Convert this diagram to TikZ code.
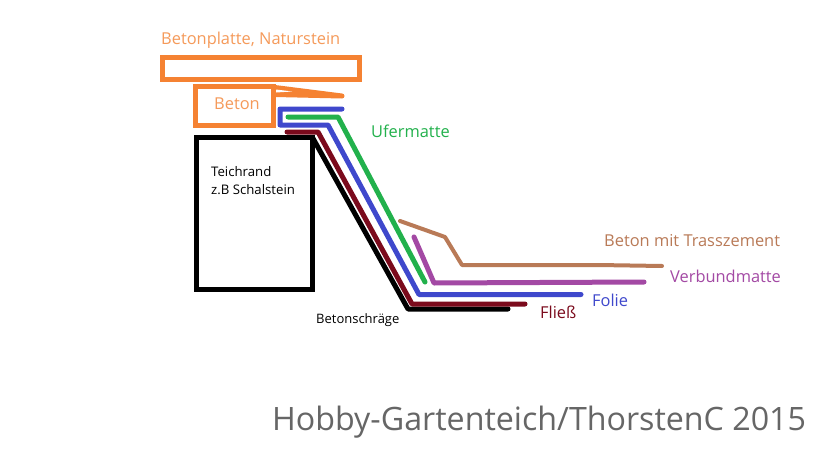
\documentclass[tikz,border=0pt]{standalone}
\usepackage{fontspec}
\setmainfont{Open Sans}
\definecolor{pOrange}{HTML}{F58232}
\definecolor{tOrange}{HTML}{F59A5A}
\definecolor{pGreen}{HTML}{22B14C}
\definecolor{pBlue}{HTML}{3F48CC}
\definecolor{pMaroon}{HTML}{7B0A1C}
\definecolor{pPurple}{HTML}{A349A4}
\definecolor{pBrown}{HTML}{B97A57}
\definecolor{pGrey}{HTML}{666666}
\tikzset{
  layer/.style={line width=5pt,line cap=round,line join=round},
  boxline/.style={line width=5pt,line join=miter},
  lab/.style={anchor=base west,inner sep=0pt,font=\fontsize{#1}{#1}\selectfont},
}
\begin{document}
\begin{tikzpicture}[x=1pt,y=-1pt]
\useasboundingbox (0,0) rectangle (819,460);
\fill[white] (0,0) rectangle (819,460);
% plate and concrete
\draw[boxline,pOrange] (162.5,57.5) rectangle (359.5,79.5);
\fill[pOrange] (275,85) -- (342,93.5) arc[start angle=-90,end angle=90,radius=2.5] -- (275,97) -- cycle;
\fill[white] (276,89.5) -- (292,91.5) -- (276,92.5) -- cycle;
\draw[boxline,pOrange] (195.5,86.5) rectangle (273.5,125.5);
% black
\draw[boxline,black] (196.5,137.5) rectangle (312.5,289);
\draw[layer,black] (312.5,137.5) -- (408,309) -- (508,309);
% layers
\draw[layer,pMaroon] (287,132) -- (318,132) -- (412,304) -- (525,304);
\draw[layer,pBlue] (342,109) -- (280,109) -- (280,125) -- (328,125) -- (419,294.5) -- (581,294.5);
\draw[layer,pGreen] (288,117) -- (338,117) -- (425,282);
\draw[layer,pPurple] (414,237) -- (434,283) -- (644,282);
\draw[layer,pBrown,line width=4pt] (400,221) -- (445,237) -- (462,265) -- (598,265) -- (662,266);
% labels
\node[lab=16.4,text=tOrange] (plate) at (161,45) {Betonplatte, Naturstein};
\node[lab=16.4,text=tOrange] (beton) at (214,109) {Beton};
\node[lab=16.4,text=pGreen] (ufer) at (371,137) {Ufermatte};
\node[lab=13.2,text=black] (rand) at (211,176) {Teichrand};
\node[lab=13.2,text=black] (rand2) at (211,194) {z.B Schalstein};
\node[lab=16.4,text=pBrown] (trass) at (604,246) {Beton mit Trasszement};
\node[lab=16.4,text=pPurple] (verbund) at (670,282) {Verbundmatte};
\node[lab=16.4,text=pBlue] (folie) at (592,306) {Folie};
\node[lab=16.4,text=pMaroon] (fliess) at (540,318) {Fließ};
\node[lab=13,text=black] (schraege) at (316,323) {Betonschräge};
\node[lab=32.2,text=pGrey] (credit) at (272,430) {Hobby-Gartenteich/ThorstenC 2015};
\end{tikzpicture}
\end{document}
